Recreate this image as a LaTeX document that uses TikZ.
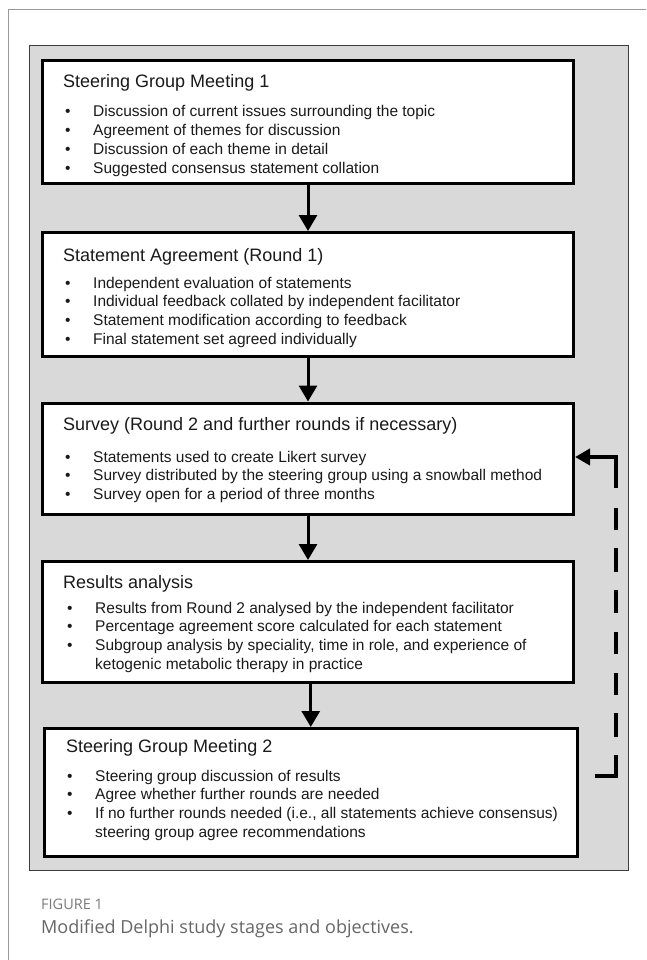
\documentclass[tikz,border=0pt]{standalone}
\usepackage{fontspec}
\setmainfont{Liberation Sans}
\newfontfamily\captionfont{Open Sans}
\usetikzlibrary{arrows.meta}
\definecolor{panelgray}{HTML}{D9D9D9}
\definecolor{paneledge}{HTML}{3C3C3C}
\definecolor{framegray}{HTML}{9A9A9A}
\definecolor{textdark}{HTML}{1A1A1A}
\definecolor{capgray}{HTML}{666666}
\definecolor{figgray}{HTML}{7A7A7A}
\newcommand{\stageHead}{\fontsize{18}{21}\selectfont}
\newcommand{\stageText}{\fontsize{15.5}{18.7}\selectfont}
\newcommand{\itm}{\textbullet &}

\begin{document}
\begin{tikzpicture}[x=1pt, y=-1pt,
  stage/.style={draw, line width=3pt, fill=white, anchor=north west, inner sep=0pt},
  heading/.style={anchor=base west, inner sep=0pt, font=\stageHead, text=textdark},
  items/.style={anchor=base west, inner sep=0pt, font=\stageText, text=textdark},
  flow/.style={line width=3pt, -{Triangle[width=18pt,length=16pt]}},
  feedback/.style={line width=4pt, -{Triangle[width=16pt,length=15pt]},
    dash pattern={on 42pt off 18pt on 24pt off 18pt on 22pt off 19pt on 22pt off 19pt
      on 23pt off 18pt on 24pt off 18pt on 22pt off 20pt on 90pt off 0pt}}]
  \useasboundingbox (0,0) rectangle (646,960);

  % page frame and panel
  \draw[framegray, line width=1pt] (8,960) -- (8,10) -- (646,10);
  \draw[paneledge, fill=panelgray, line width=1.2pt] (29.5,45.5) rectangle (628.5,870.5);

  % stages
  \node[stage, minimum width=531pt, minimum height=123pt] (sgm1) at (41,59) {};
  \node[heading] (sgm1h) at (63,88) {Steering Group Meeting 1};
  \node[items] (sgm1l) at (65,117) {\begin{tabular}[t]{@{}p{28pt}@{}l@{}}
    \itm Discussion of current issues surrounding the topic\\
    \itm Agreement of themes for discussion\\
    \itm Discussion of each theme in detail\\
    \itm Suggested consensus statement collation
  \end{tabular}};

  \node[stage, minimum width=531pt, minimum height=124pt] (sa1) at (41,231) {};
  \node[heading] (sa1h) at (63,261) {Statement Agreement (Round 1)};
  \node[items] (sa1l) at (65,288) {\begin{tabular}[t]{@{}p{28pt}@{}l@{}}
    \itm Independent evaluation of statements\\
    \itm Individual feedback collated by independent facilitator\\
    \itm Statement modification according to feedback\\
    \itm Final statement set agreed individually
  \end{tabular}};

  \node[stage, minimum width=531pt, minimum height=111.5pt] (sv) at (41,401.5) {};
  \node[heading] (svh) at (63,430) {Survey (Round 2 and further rounds if necessary)};
  \node[items] (svl) at (65,462) {\begin{tabular}[t]{@{}p{28pt}@{}l@{}}
    \itm Statements used to create Likert survey\\
    \itm Survey distributed by the steering group using a snowball method\\
    \itm Survey open for a period of three months
  \end{tabular}};

  \node[stage, minimum width=531pt, minimum height=121pt] (ra) at (41,560) {};
  \node[heading] (rah) at (63,588) {Results analysis};
  \node[items] (ral) at (67,613) {\begin{tabular}[t]{@{}p{28pt}@{}l@{}}
    \itm Results from Round 2 analysed by the independent facilitator\\
    \itm Percentage agreement score calculated for each statement\\
    \itm Subgroup analysis by speciality, time in role, and experience of\\
    & ketogenic metabolic therapy in practice
  \end{tabular}};

  \node[stage, minimum width=533.5pt, minimum height=128pt] (sgm2) at (42.5,727) {};
  \node[heading] (sgm2h) at (66,752) {Steering Group Meeting 2};
  \node[items] (sgm2l) at (67,781) {\begin{tabular}[t]{@{}p{28pt}@{}l@{}}
    \itm Steering group discussion of results\\
    \itm Agree whether further rounds are needed\\
    \itm If no further rounds needed (i.e., all statements achieve consensus)\\
    & steering group agree recommendations
  \end{tabular}};

  % flow between stages
  \draw[flow] (sgm1.south) -- (sa1.north);
  \draw[flow] (sa1.south) -- (sv.north);
  \draw[flow] (sv.south) -- (ra.north);
  \draw[flow] (sgm2.north |- ra.south) -- (sgm2.north);

  % loop back for further rounds
  \coordinate (fbstart) at (595,776);
  \coordinate (fbtop) at (616,457);
  \draw[feedback] (fbstart) -| (fbtop) -- (fbtop -| sv.east);

  % caption
  \node[anchor=base west, inner sep=0pt, font=\captionfont\fontsize{14.5}{16}\selectfont, text=figgray] (fig) at (41,909) {FIGURE 1};
  \node[anchor=base west, inner sep=0pt, font=\captionfont\fontsize{18}{21}\selectfont, text=capgray] (cap) at (41,933) {Modified Delphi study stages and objectives.};
\end{tikzpicture}
\end{document}
